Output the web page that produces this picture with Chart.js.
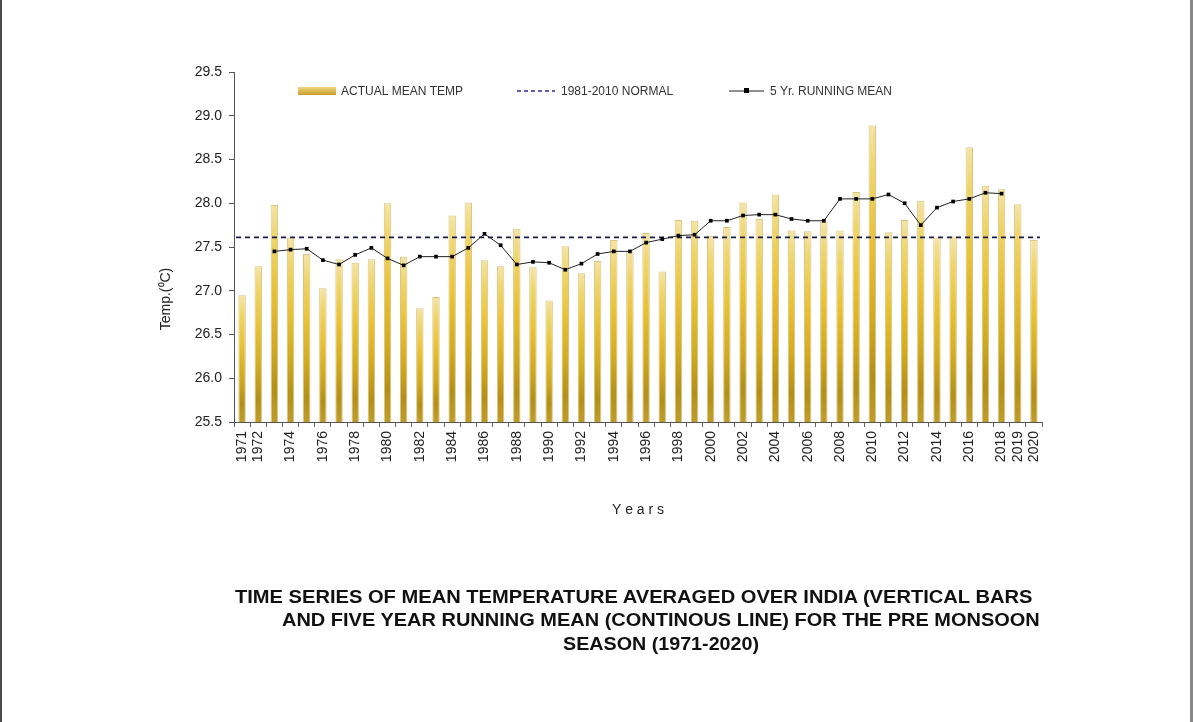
<!DOCTYPE html>
<html>
<head>
<meta charset="utf-8">
<script src="https://cdn.jsdelivr.net/npm/chart.js@4.4.1/dist/chart.umd.min.js"></script>
<style>
  body { margin: 0; background: #fff; width: 1193px; height: 722px; overflow: hidden; position: relative; }
  #chart { position: absolute; left: 0; top: 0; }
  .edge { position: absolute; top: 0; width: 2px; height: 722px; background: #4a4a4a; }
  .ttl { position: absolute; font-family: "Liberation Sans", Arial, sans-serif; font-weight: bold; font-size: 18.5px;
         color: #111; white-space: nowrap; transform-origin: 0 50%; line-height: 22px; }
</style>
</head>
<body>
<div class="edge" style="left:0"></div>
<div class="edge" style="left:1190px;width:3px;background:#888"></div>
<canvas id="chart" width="1193" height="722"></canvas>
<div class="ttl" data-w="797" style="left:235px;top:586px">TIME SERIES OF MEAN TEMPERATURE AVERAGED OVER INDIA (VERTICAL BARS</div>
<div class="ttl" data-w="758" style="left:282px;top:609px">AND FIVE YEAR RUNNING MEAN (CONTINOUS LINE) FOR THE PRE MONSOON</div>
<div class="ttl" data-w="196" style="left:563px;top:633px">SEASON (1971-2020)</div>
<script>
// ---------------- DATA ----------------
const years = [1971, 1972, 1973, 1974, 1975, 1976, 1977, 1978, 1979, 1980,
               1981, 1982, 1983, 1984, 1985, 1986, 1987, 1988, 1989, 1990,
               1991, 1992, 1993, 1994, 1995, 1996, 1997, 1998, 1999, 2000,
               2001, 2002, 2003, 2004, 2005, 2006, 2007, 2008, 2009, 2010,
               2011, 2012, 2013, 2014, 2015, 2016, 2017, 2018, 2019, 2020];

const actualTemp = [26.95, 27.28, 27.98, 27.61, 27.42, 27.03, 27.36, 27.32, 27.36, 28.00,
                    27.39, 26.80, 26.93, 27.86, 28.01, 27.35, 27.28, 27.71, 27.27, 26.89,
                    27.51, 27.20, 27.34, 27.58, 27.45, 27.66, 27.22, 27.81, 27.80, 27.63,
                    27.73, 28.01, 27.82, 28.10, 27.69, 27.68, 27.79, 27.69, 28.13, 28.89,
                    27.67, 27.81, 28.03, 27.61, 27.62, 28.64, 28.20, 28.16, 27.99, 27.58];

const runningMean = [null, null, 27.45, 27.47, 27.48, 27.35, 27.30, 27.41, 27.49, 27.37,
                     27.29, 27.39, 27.39, 27.39, 27.49, 27.65, 27.52, 27.30, 27.33, 27.32,
                     27.24, 27.31, 27.42, 27.45, 27.45, 27.55, 27.59, 27.63, 27.64, 27.80,
                     27.80, 27.86, 27.87, 27.87, 27.82, 27.80, 27.80, 28.05, 28.05, 28.05,
                     28.10, 28.00, 27.75, 27.95, 28.02, 28.05, 28.12, 28.11, null, null];

const normal = 27.61;   // 1981-2010 normal

const yTicks = [25.5, 26.0, 26.5, 27.0, 27.5, 28.0, 28.5, 29.0, 29.5];
const shownYears = [1971, 1972, 1974, 1976, 1978, 1980, 1982, 1984, 1986, 1988, 1990,
                    1992, 1994, 1996, 1998, 2000, 2002, 2004, 2006, 2008, 2010, 2012,
                    2014, 2016, 2018, 2019, 2020];

const FONT = '"Liberation Sans", Arial, sans-serif';

// gold gradient for each bar, pale at the top and darker near the base
function barFill(context) {
    const chart = context.chart;
    if (!chart.chartArea || context.raw == null) return '#e2bd3a';
    const y = chart.scales.y;
    const top = y.getPixelForValue(context.raw);
    const g = chart.ctx.createLinearGradient(0, top, 0, chart.chartArea.bottom);
    g.addColorStop(0, '#f4e4a6');
    g.addColorStop(0.15, '#f0d56c');
    g.addColorStop(0.4, '#e8c136');
    g.addColorStop(0.65, '#d2aa22');
    g.addColorStop(0.85, '#b4901a');
    g.addColorStop(1, '#bf9c2a');
    return g;
}

// ---------------- NORMAL LINE (drawn after the bars) ----------------
const normalLine = {
    id: 'normalLine',
    afterDatasetDraw(chart, args) {
        if (args.index !== 1) return;
        const { ctx, chartArea } = chart;
        const y = chart.scales.y.getPixelForValue(normal);
        ctx.save();
        ctx.strokeStyle = '#1c1c4a';
        ctx.lineWidth = 1.6;
        ctx.setLineDash([5, 4]);
        ctx.beginPath();
        ctx.moveTo(chartArea.left + 2, y);
        ctx.lineTo(chartArea.right - 2, y);
        ctx.stroke();
        ctx.restore();
    }
};

// ---------------- LEGEND + Y TITLE ----------------
const legendRow = {
    id: 'legendRow',
    afterDraw(chart) {
        const ctx = chart.ctx;
        const ly = 91;
        ctx.save();
        // bar swatch
        const g = ctx.createLinearGradient(0, ly - 4, 0, ly + 4);
        g.addColorStop(0, '#f0d680');
        g.addColorStop(1, '#c89e2a');
        ctx.fillStyle = g;
        ctx.fillRect(298, ly - 4, 38, 8);
        // dashed swatch
        ctx.strokeStyle = '#2a2a9a';
        ctx.lineWidth = 1.5;
        ctx.setLineDash([4, 3]);
        ctx.beginPath(); ctx.moveTo(517, ly); ctx.lineTo(555, ly); ctx.stroke();
        ctx.setLineDash([]);
        // line + marker swatch
        ctx.strokeStyle = '#222';
        ctx.lineWidth = 1;
        ctx.beginPath(); ctx.moveTo(729, ly); ctx.lineTo(764, ly); ctx.stroke();
        ctx.fillStyle = '#000';
        ctx.fillRect(744, ly - 3, 5, 5);
        // texts
        ctx.fillStyle = '#333';
        ctx.font = '12px ' + FONT;
        ctx.textBaseline = 'middle';
        ctx.fillText('ACTUAL MEAN TEMP', 341, ly + 1);
        ctx.fillText('1981-2010 NORMAL', 561, ly + 1);
        ctx.fillText('5 Yr. RUNNING MEAN', 770, ly + 1);
        // y axis title, sits a bit below the middle of the axis
        ctx.translate(166, 299);
        ctx.rotate(-Math.PI / 2);
        ctx.textAlign = 'center';
        ctx.fillStyle = '#222';
        ctx.font = '14px ' + FONT;
        ctx.fillText('Temp.(\u2070C)', 0, 0);
        ctx.restore();
    }
};

// ---------------- CHART ----------------
new Chart(document.getElementById('chart'), {
    type: 'bar',
    data: {
        labels: years,
        datasets: [
            {
                type: 'line',
                label: '5 Yr. RUNNING MEAN',
                data: runningMean,
                borderColor: '#222',
                borderWidth: 1,
                pointStyle: 'rect',
                pointRadius: 2.6,
                pointBackgroundColor: '#000',
                pointBorderColor: '#000',
                pointBorderWidth: 0,
                tension: 0,
                order: 0
            },
            {
                label: 'ACTUAL MEAN TEMP',
                data: actualTemp,
                backgroundColor: barFill,
                borderColor: '#d8c482',
                borderWidth: 1,
                borderSkipped: 'bottom',
                barPercentage: 0.46,
                categoryPercentage: 1,
                order: 1
            }
        ]
    },
    options: {
        responsive: false,
        animation: false,
        events: [],
        layout: { padding: { left: 150, right: 151, top: 72, bottom: 200 } },
        plugins: {
            legend: { display: false },
            tooltip: { enabled: false }
        },
        scales: {
            x: {
                grid: { display: true, drawOnChartArea: false, tickLength: 5, color: '#666' },
                border: { color: '#555', width: 1 },
                ticks: {
                    autoSkip: false,
                    maxRotation: 90,
                    minRotation: 90,
                    padding: 4,
                    color: '#222',
                    font: { family: FONT, size: 14 },
                    callback: function (value) {
                        const yr = years[value];
                        return shownYears.includes(yr) ? String(yr) : '';
                    }
                },
                title: {
                    display: true,
                    text: 'Y e a r s',
                    color: '#222',
                    font: { family: FONT, size: 14 },
                    padding: { top: 4, bottom: 3 }
                },
                afterFit: scale => { scale.height = 100; }
            },
            y: {
                min: 25.5,
                max: 29.5,
                grid: { display: true, drawOnChartArea: false, tickLength: 5, color: '#555' },
                border: { color: '#555', width: 1 },
                afterBuildTicks: scale => { scale.ticks = yTicks.map(v => ({ value: v })); },
                ticks: {
                    padding: 7,
                    color: '#222',
                    font: { family: FONT, size: 14 },
                    callback: v => Number(v).toFixed(1)
                },
                title: { display: false },
                afterFit: scale => { scale.width = 84; }
            }
        }
    },
    plugins: [normalLine, legendRow]
});

// fit title lines to the widths seen in the picture
document.querySelectorAll('.ttl').forEach(el => {
    const w = el.getBoundingClientRect().width;
    el.style.transform = 'scaleX(' + (Number(el.dataset.w) / w).toFixed(3) + ')';
});
</script>
</body>
</html>
